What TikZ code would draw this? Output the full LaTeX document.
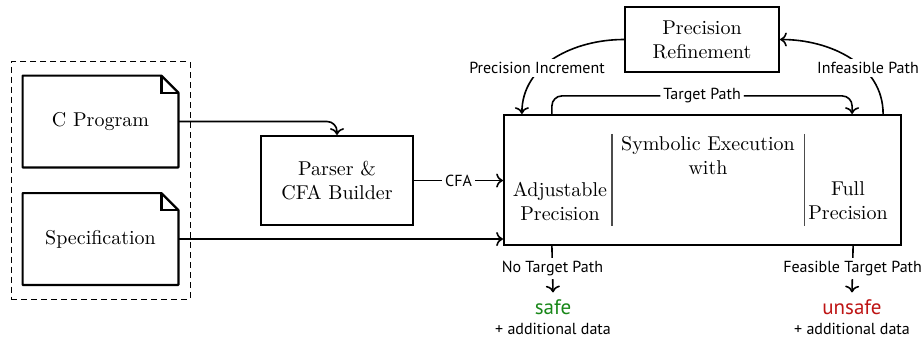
\documentclass[tikz,border=0pt]{standalone}
\usepackage{fontspec}
\setsansfont{PT Sans}
\usetikzlibrary{positioning,arrows.meta,calc,fit}
\usepackage{xcolor}
\definecolor{safegreen}{RGB}{25,135,25}
\definecolor{unsafered}{RGB}{190,20,20}

\tikzset{
  box/.style={draw, line width=1.1pt, align=center, inner sep=2pt},
  docbox/.style={align=center, minimum width=77.5pt, minimum height=45.5pt},
  lbl/.style={font=\sffamily\fontsize{8}{10}\selectfont, fill=white, inner sep=1.5pt},
  flow/.style={->, line width=0.8pt},
}

\begin{document}
\begin{tikzpicture}[x=0.5pt, y=-0.5pt]
\useasboundingbox (0,0) rectangle (921,343);
% inputs
\node[docbox] (cprog) at (100.5,121.5) {C Program};
\node[docbox] (spec) at (100.5,239) {Specification};
\foreach \d in {cprog,spec} {
  \draw[line width=1.1pt, line join=round] (\d.south west) -- (\d.north west) -- ($(\d.north east)+(-17,0)$)
    -- ($(\d.north east)+(0,17)$) -- (\d.south east) -- cycle;
  \draw[line width=1.1pt] ($(\d.north east)+(-17,0)$) |- ($(\d.north east)+(0,17)$);
}
\node[draw, dash pattern=on 3pt off 2pt, fit=(cprog)(spec), inner xsep=5.75pt, inner ysep=7pt] (inputs) {};
% tools
\node[box, minimum width=76pt, minimum height=44.5pt] (parser) at (337,180.5) {Parser \&\\CFA Builder};
\node[box, minimum width=198.5pt, minimum height=65pt] (main) at (702.5,180) {};
\node[box, minimum width=77pt, minimum height=32.5pt] (refine) at (702,39.5) {Precision\\Refinement};
% inside the symbolic execution box
\node[align=center] (symb) at (708,156) {Symbolic Execution\\with};
\node[align=center] (adj) at (560,201) {Adjustable\\Precision};
\node[align=center] (full) at (848,201) {Full\\Precision};
\draw[gray!60!black, semithick] ($(main.north west)+(109,20)$) -- ($(main.south west)+(109,-20)$);
\draw[gray!60!black, semithick] ($(main.north east)+(-98,20)$) -- ($(main.south east)+(-98,-20)$);
% results
\node[font=\sffamily\fontsize{10.5}{12}\selectfont, text=safegreen] (safe) at (553,307) {safe};
\node[font=\sffamily\fontsize{8}{10}\selectfont] (safedata) at (553,329) {+ additional data};
\node[font=\sffamily\fontsize{10.5}{12}\selectfont, text=unsafered] (unsafe) at (852,307) {unsafe};
\node[font=\sffamily\fontsize{8}{10}\selectfont] (unsafedata) at (852,329) {+ additional data};
% connector ends on the main box
\coordinate (tp-start) at ($(main.north west)+(49,0)$);
\coordinate (tp-end) at ($(main.north east)+(-50,0)$);
\coordinate (pi-end) at ($(main.north west)+(19,0)$);
\coordinate (ip-start) at ($(main.north east)+(-19,0)$);
\coordinate (nt-start) at ($(main.south west)+(49,0)$);
\coordinate (ft-start) at ($(main.south east)+(-49,0)$);
% arrows
\draw[flow, rounded corners=5pt] (cprog.east) -| (parser.north);
\draw[flow] (spec.east) -- (spec.east -| main.west);
\draw[flow] (parser.east) -- node[lbl] {CFA} (parser.east -| main.west);
\draw[flow, rounded corners=5pt] (tp-start) |- node[lbl, pos=0.75] {Target Path} ($(tp-end)+(0,-18)$) -- (tp-end);
\draw[flow] (refine.west) to[out=180, in=90] (pi-end);
\draw[flow] (ip-start) to[out=90, in=0] (refine.east);
\node[lbl] (pinc) at (537,68) {Precision Increment};
\node[lbl] (infp) at (868,68) {Infeasible Path};
\draw[flow] (nt-start) -- node[lbl, pos=0.48] {No Target Path} (safe.north);
\draw[flow] (ft-start) -- node[lbl, pos=0.48] {Feasible Target Path} (unsafe.north);
\end{tikzpicture}
\end{document}
